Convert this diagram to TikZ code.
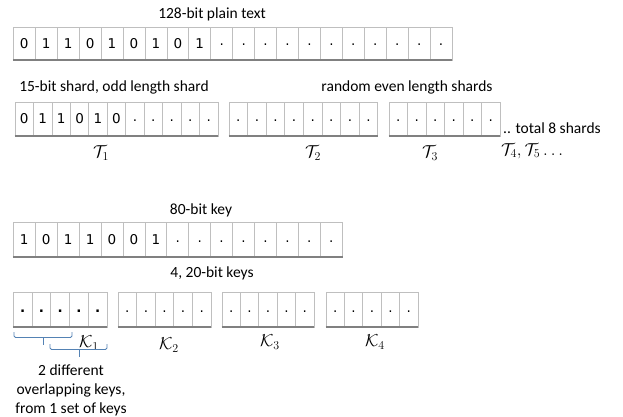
\documentclass[tikz,border=0pt]{standalone}
\usepackage{fontspec}
\setmainfont{Carlito}
\newfontfamily\cellfont{DejaVu Sans}
\definecolor{brkblue}{RGB}{84,130,180}
\newcommand{\dt}{\raisebox{2.5pt}{.}}
\newcommand{\bdt}{\raisebox{2pt}{\textbf{.}}}
\newcommand{\bitrow}[7]{%
  \foreach \v [count=\i] in {#7} {
    \node[cellbox, minimum width=#3pt, minimum height=#5pt] (#1\i) at ({#2+#3*(\i-0.5)}, #4) {\v};
  }
  \draw[bottomrule] (#11.south west) -- (#1#6.south east);
}
\begin{document}
\begin{tikzpicture}[x=1pt,y=-1pt,
  cellbox/.style={draw=black!25, line width=0.7pt, inner sep=0pt, font=\cellfont\fontsize{13.5}{15}\selectfont, text height=10pt, text depth=0pt},
  bottomrule/.style={draw=black!50, line width=1.8pt},
  heading/.style={font=\fontsize{15.5}{18}\selectfont, inner sep=0pt},
  lab/.style={font=\fontsize{17}{19}\selectfont, inner sep=0pt},
  brk/.style={draw=brkblue, line width=0.8pt, rounded corners=1.5pt}]
\useasboundingbox (0,0) rectangle (623,417);

% row 1
\node[heading] (t128) at (212,14) {128-bit plain text};
\bitrow{p}{13.3}{21.94}{43.5}{33}{20}{0,1,1,0,1,0,1,0,1,\dt,\dt,\dt,\dt,\dt,\dt,\dt,\dt,\dt,\dt,\dt}

% row 2
\node[heading] (t15) at (114,87) {15-bit shard, odd length shard};
\node[heading] (trand) at (407,87) {random even length shards};
\bitrow{a}{15}{18.45}{119}{34}{11}{0,1,1,0,1,0,\dt,\dt,\dt,\dt,\dt}
\bitrow{b}{229}{18.6}{119}{34}{8}{\dt,\dt,\dt,\dt,\dt,\dt,\dt,\dt}
\bitrow{c}{389}{18.5}{119}{34}{6}{\dt,\dt,\dt,\dt,\dt,\dt}
\node[heading, anchor=west] (ttot) at (503,128) {.. total 8 shards};
\node[lab] (T1) at (101,153) {$\mathcal{T}_1$};
\node[lab] (T2) at (313,153) {$\mathcal{T}_2$};
\node[lab] (T3) at (430,153) {$\mathcal{T}_3$};
\node[lab, anchor=west] (T45) at (501,151) {$\mathcal{T}_4, \mathcal{T}_5\ldots$};

% row 3
\node[heading] (t80) at (201,210) {80-bit key};
\bitrow{k}{13.3}{21.93}{239.75}{34.5}{15}{1,0,1,1,0,0,1,\dt,\dt,\dt,\dt,\dt,\dt,\dt,\dt}

% row 4
\node[heading] (t20) at (212,273) {4, 20-bit keys};
\bitrow{d}{13.3}{18.74}{309.5}{35}{5}{\bdt,\bdt,\bdt,\bdt,\bdt}
\bitrow{e}{118}{18.6}{309.5}{35}{5}{\dt,\dt,\dt,\dt,\dt}
\bitrow{f}{222}{18.4}{309.5}{35}{5}{\dt,\dt,\dt,\dt,\dt}
\bitrow{g}{326}{18.4}{309.5}{35}{5}{\dt,\dt,\dt,\dt,\dt}
\node[lab] (K1) at (89,343) {$\mathcal{K}_1$};
\node[lab] (K2) at (169,345) {$\mathcal{K}_2$};
\node[lab] (K3) at (270,342) {$\mathcal{K}_3$};
\node[lab] (K4) at (375,342) {$\mathcal{K}_4$};

% brackets
\coordinate (b1l) at (14,332);
\coordinate (b1r) at (72,332);
\coordinate (b1m) at (43,345);
\coordinate (b2l) at (50,344);
\coordinate (b2r) at (107,344);
\coordinate (b2m) at (79,357);
\draw[brk] (b1l) -- (14,337.5) -- (72,337.5) -- (b1r);
\draw[brk] (43,337.5) -- (b1m);
\draw[brk] (b2l) -- (50,349.5) -- (107,349.5) -- (b2r);
\draw[brk] (79,349.5) -- (b2m);

\node[heading, align=center, font=\fontsize{15.5}{19}\selectfont] (note) at (71,390) {2 different\\overlapping keys,\\from 1 set of keys};
\end{tikzpicture}
\end{document}
